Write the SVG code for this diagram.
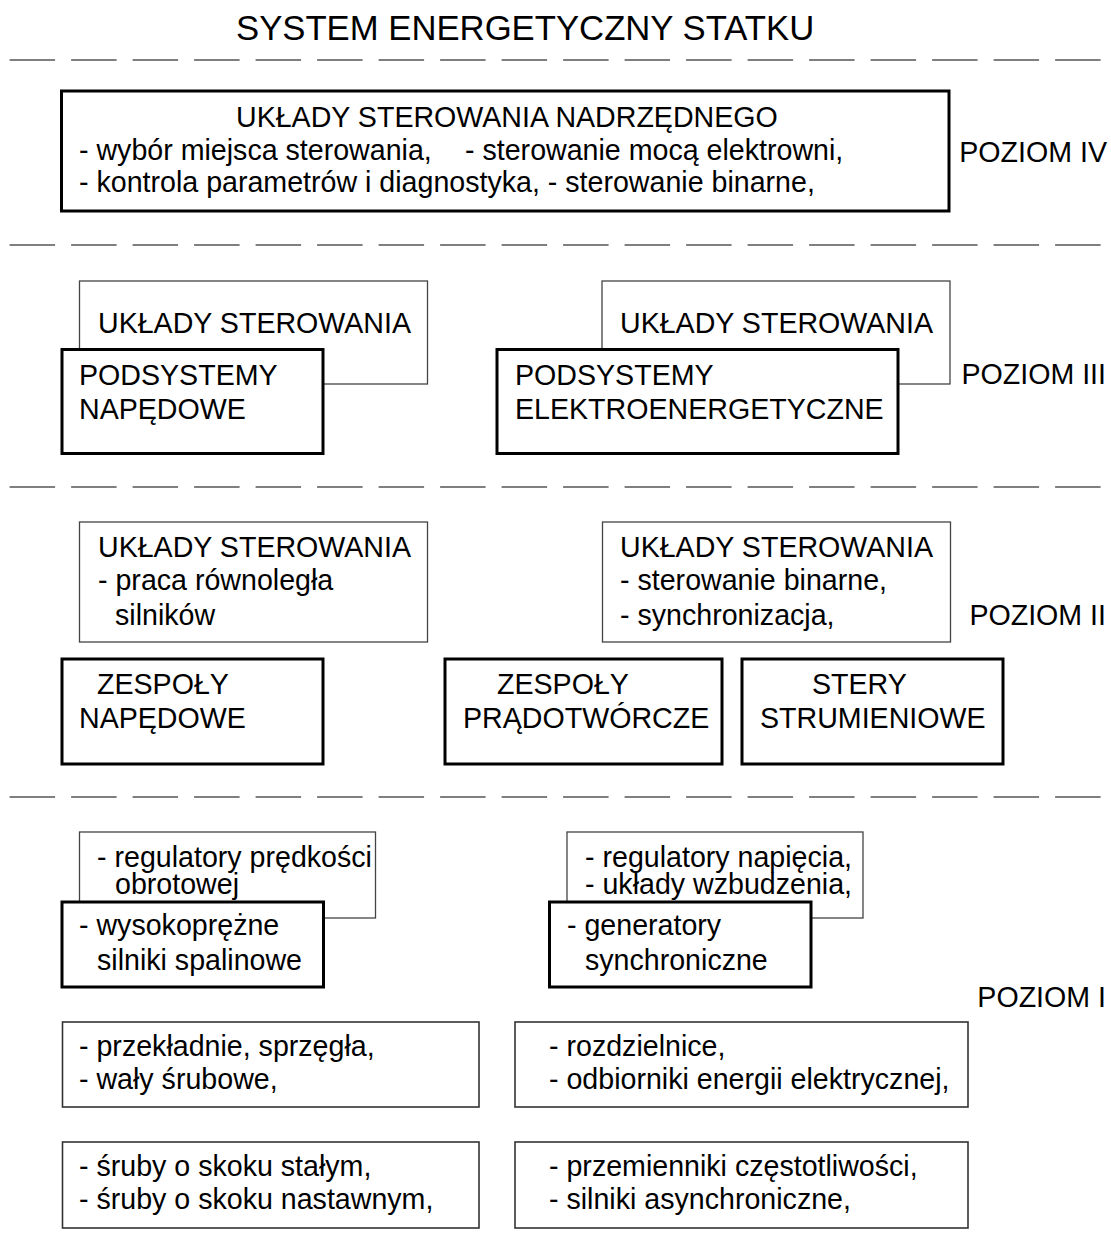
<svg xmlns="http://www.w3.org/2000/svg" width="1111" height="1257" viewBox="0 0 1111 1257">
<style>
text{font-family:"Liberation Sans",Arial,sans-serif;font-size:28.6px;fill:#000}
.title{font-size:34.7px}
.lvl{text-anchor:end}
.thin{fill:#fff;stroke:#444;stroke-width:1.3}
.thick{fill:#fff;stroke:#000;stroke-width:3}
.plain{fill:#fff;stroke:#333;stroke-width:1.6}
.sep{stroke:#555;stroke-width:1.4;stroke-dasharray:45.5 16;fill:none}
</style>
<rect width="1111" height="1257" fill="#fff"/>
<text class="title" x="236" y="40">SYSTEM ENERGETYCZNY STATKU</text>
<g id="separators">
<line class="sep" x1="9.6" y1="60" x2="1101" y2="60"/>
<line class="sep" x1="9.6" y1="245" x2="1101" y2="245"/>
<line class="sep" x1="9.6" y1="487" x2="1101" y2="487"/>
<line class="sep" x1="9.6" y1="797" x2="1101" y2="797"/>
</g>
<g id="levels">
<text class="lvl" x="1107" y="162">POZIOM IV</text>
<text class="lvl" x="1106" y="384">POZIOM III</text>
<text class="lvl" x="1106" y="625">POZIOM II</text>
<text class="lvl" x="1106" y="1007">POZIOM I</text>
</g>
<g id="n-nadrzedne">
<rect class="thick" x="61.5" y="91" width="887.5" height="120"/>
<text x="236" y="127">UKŁADY STEROWANIA NADRZĘDNEGO</text>
<text y="160"><tspan x="79">- wybór miejsca sterowania,</tspan><tspan x="465">- sterowanie mocą elektrowni,</tspan></text>
<text x="79" y="192">- kontrola parametrów i diagnostyka, - sterowanie binarne,</text>
</g>
<g id="n-ster3-nap">
<rect class="thin" x="79.5" y="281" width="348" height="103"/>
<text x="98" y="333">UKŁADY STEROWANIA</text>
</g>
<g id="n-podsys-nap">
<rect class="thick" x="62" y="349.5" width="261" height="104"/>
<text x="79" y="385">PODSYSTEMY</text>
<text x="79" y="419">NAPĘDOWE</text>
</g>
<g id="n-ster3-el">
<rect class="thin" x="602" y="281" width="348" height="103"/>
<text x="620" y="333">UKŁADY STEROWANIA</text>
</g>
<g id="n-podsys-el">
<rect class="thick" x="497" y="349.5" width="401" height="104"/>
<text x="515" y="385">PODSYSTEMY</text>
<text x="515" y="419">ELEKTROENERGETYCZNE</text>
</g>
<g id="n-ster2-nap">
<rect class="thin" x="79.5" y="522" width="348" height="120"/>
<text x="98" y="557">UKŁADY STEROWANIA</text>
<text x="98" y="590">- praca równoległa</text>
<text x="115" y="625">silników</text>
</g>
<g id="n-ster2-el">
<rect class="thin" x="602.5" y="522" width="348" height="120"/>
<text x="620" y="557">UKŁADY STEROWANIA</text>
<text x="620" y="590">- sterowanie binarne,</text>
<text x="620" y="625">- synchronizacja,</text>
</g>
<g id="n-zesp-nap">
<rect class="thick" x="62" y="659" width="261" height="105"/>
<text x="97" y="694">ZESPOŁY</text>
<text x="79" y="728">NAPĘDOWE</text>
</g>
<g id="n-zesp-prad">
<rect class="thick" x="445" y="659" width="277" height="105"/>
<text x="497" y="694">ZESPOŁY</text>
<text x="463" y="728">PRĄDOTWÓRCZE</text>
</g>
<g id="n-stery">
<rect class="thick" x="742" y="659" width="261" height="105"/>
<text x="812" y="694">STERY</text>
<text x="760" y="728">STRUMIENIOWE</text>
</g>
<g id="n-reg-pred">
<rect class="thin" x="79.5" y="832" width="296" height="86"/>
<text x="97" y="867">- regulatory prędkości</text>
<text x="115" y="894">obrotowej</text>
</g>
<g id="n-silniki">
<rect class="thick" x="62" y="902" width="261.5" height="85"/>
<text x="79" y="935">- wysokoprężne</text>
<text x="97" y="970">silniki spalinowe</text>
</g>
<g id="n-reg-nap">
<rect class="thin" x="567" y="832" width="296" height="86"/>
<text x="585" y="867">- regulatory napięcia,</text>
<text x="585" y="894">- układy wzbudzenia,</text>
</g>
<g id="n-generatory">
<rect class="thick" x="549.5" y="902" width="261.5" height="85"/>
<text x="567" y="935">- generatory</text>
<text x="585" y="970">synchroniczne</text>
</g>
<g id="n-przekladnie">
<rect class="plain" x="62.5" y="1022" width="416.5" height="85"/>
<text x="79" y="1056">- przekładnie, sprzęgła,</text>
<text x="79" y="1089">- wały śrubowe,</text>
</g>
<g id="n-rozdzielnice">
<rect class="plain" x="515" y="1022" width="453" height="85"/>
<text x="549" y="1056">- rozdzielnice,</text>
<text x="549" y="1089">- odbiorniki energii elektrycznej,</text>
</g>
<g id="n-sruby">
<rect class="plain" x="62.5" y="1142" width="416.5" height="86"/>
<text x="79" y="1176">- śruby o skoku stałym,</text>
<text x="79" y="1209">- śruby o skoku nastawnym,</text>
</g>
<g id="n-przemienniki">
<rect class="plain" x="515" y="1142" width="453" height="86"/>
<text x="549" y="1176">- przemienniki częstotliwości,</text>
<text x="549" y="1209">- silniki asynchroniczne,</text>
</g>
</svg>
